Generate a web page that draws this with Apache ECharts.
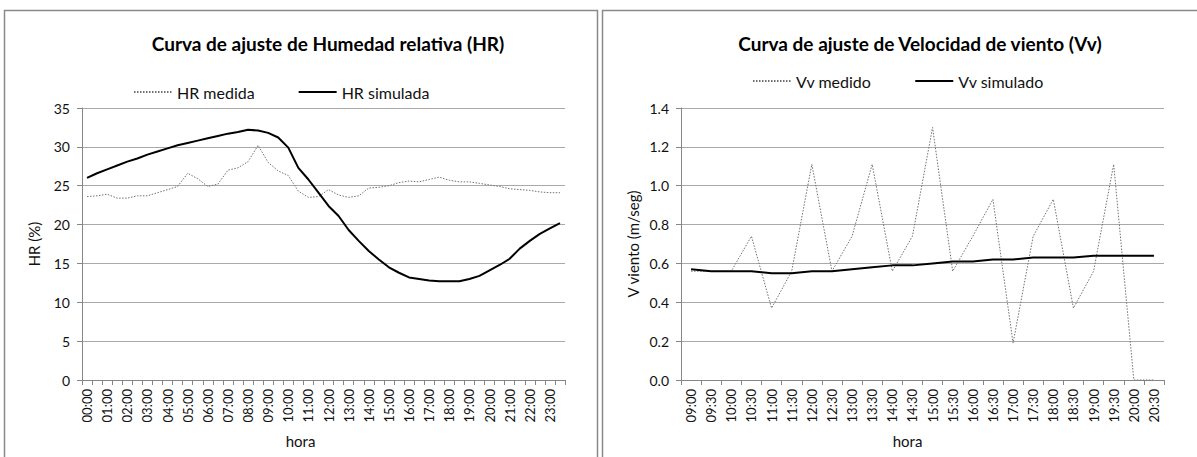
<!DOCTYPE html>
<html>
<head>
<meta charset="utf-8">
<script src="https://cdn.jsdelivr.net/npm/echarts@6/dist/echarts.min.js"></script>
<style>
html,body{margin:0;padding:0;background:#fff;}
#chart{width:1197px;height:457px;}
</style>
</head>
<body>
<div id="chart"></div>
<script>
// ---------- DATA ----------
const hoursHR = ['00:00','00:30','01:00','01:30','02:00','02:30','03:00','03:30','04:00','04:30','05:00','05:30',
  '06:00','06:30','07:00','07:30','08:00','08:30','09:00','09:30','10:00','10:30','11:00','11:30',
  '12:00','12:30','13:00','13:30','14:00','14:30','15:00','15:30','16:00','16:30','17:00','17:30',
  '18:00','18:30','19:00','19:30','20:00','20:30','21:00','21:30','22:00','22:30','23:00','23:30'];
const hrMedida = [23.6,23.7,23.9,23.4,23.4,23.7,23.7,24.1,24.5,24.9,26.6,25.9,
  24.9,25.2,27.0,27.3,28.1,30.2,28.0,26.9,26.3,24.3,23.5,23.6,
  24.5,23.8,23.5,23.7,24.7,24.8,25.0,25.4,25.6,25.5,25.8,26.1,
  25.7,25.5,25.5,25.3,25.1,24.9,24.6,24.5,24.4,24.2,24.1,24.1];
const hrSimulada = [26.0,26.6,27.1,27.6,28.1,28.5,29.0,29.4,29.8,30.2,30.5,30.8,
  31.1,31.4,31.7,31.9,32.2,32.1,31.8,31.2,29.9,27.3,25.8,24.1,
  22.4,21.1,19.3,17.9,16.6,15.5,14.5,13.8,13.2,13.0,12.8,12.7,
  12.7,12.7,13.0,13.4,14.1,14.8,15.6,16.9,17.9,18.8,19.5,20.2];

const hoursVv = ['09:00','09:30','10:00','10:30','11:00','11:30','12:00','12:30','13:00','13:30','14:00','14:30',
  '15:00','15:30','16:00','16:30','17:00','17:30','18:00','18:30','19:00','19:30','20:00','20:30'];
const vvMedido = [0.56,0.56,0.56,0.74,0.37,0.56,1.11,0.56,0.74,1.11,0.56,0.74,
  1.30,0.56,0.74,0.93,0.19,0.74,0.93,0.37,0.56,1.11,0.00,0.00];
const vvSimulado = [0.57,0.56,0.56,0.56,0.55,0.55,0.56,0.56,0.57,0.58,0.59,0.59,
  0.60,0.61,0.61,0.62,0.62,0.63,0.63,0.63,0.64,0.64,0.64,0.64];

const titleHR = 'Curva de ajuste de Humedad relativa (HR)';
const titleVv = 'Curva de ajuste de Velocidad de viento (Vv)';

// ---------- STYLE ----------
const FONT = 'Lato';
const TXT = '#111';
const AXIS = '#868686';
const GRIDC = '#a9a9a9';
const dottedStyle = {color:'#707070', width:1, type:[1.5,1.5]};
const solidStyle = {color:'#000', width:2, type:'solid'};

function xAxisCfg(gi, data, labelInterval, namePad){
  return {
    gridIndex: gi, type:'category', data: data, boundaryGap:true,
    axisLine:{show:true, lineStyle:{color:AXIS, width:1}},
    axisTick:{show:true, interval:0, length:5, lineStyle:{color:AXIS}},
    axisLabel:{interval:labelInterval, rotate:90, margin:9, fontSize:13, fontFamily:FONT, color:TXT},
    splitLine:{show:false},
    name:'hora', nameLocation:'middle', nameGap:53,
    nameTextStyle:{fontSize:15, fontFamily:FONT, color:TXT, padding:namePad}
  };
}
function yAxisCfg(gi, max, interval, name, fmt){
  return {
    gridIndex: gi, type:'value', min:0, max:max, interval:interval,
    axisLine:{show:true, lineStyle:{color:AXIS, width:1}},
    axisTick:{show:true, length:5, lineStyle:{color:AXIS}},
    axisLabel:{margin:12, fontSize:14, fontFamily:FONT, color:TXT, formatter: fmt},
    splitLine:{show:true, lineStyle:{color:GRIDC, width:1}},
    name:name, nameLocation:'middle', nameGap:41, nameRotate:90,
    nameTextStyle:{fontSize:15, fontFamily:FONT, color:TXT}
  };
}
function legendCfg(left, top, names){
  return {
    left:left, top:top, padding:0, itemWidth:38, itemHeight:14, itemGap:43,
    itemStyle:{opacity:0},
    textStyle:{fontSize:16, fontFamily:FONT, color:TXT},
    data:names
  };
}

const chart = echarts.init(document.getElementById('chart'), null, {renderer:'svg'});
chart.setOption({
  animation:false,
  backgroundColor:'#fff',
  graphic:[
    {type:'rect', shape:{x:4.5, y:10.5, width:593, height:460}, style:{fill:'none', stroke:'#8a8a8a', lineWidth:1.5}, silent:true, z:-1},
    {type:'rect', shape:{x:602.5, y:10.5, width:600, height:460}, style:{fill:'none', stroke:'#8a8a8a', lineWidth:1.5}, silent:true, z:-1},
    {type:'text', x:328, y:43, style:{text:titleHR, align:'center', verticalAlign:'middle', font:'bold 19px Lato', fill:'#000'}},
    {type:'text', x:920, y:43, style:{text:titleVv, align:'center', verticalAlign:'middle', font:'bold 19px Lato', fill:'#000'}}
  ],
  legend:[
    legendCfg(133, 84, ['HR medida','HR simulada']),
    legendCfg(752, 73, ['Vv medido','Vv simulado'])
  ],
  grid:[
    {left:82, right:632, top:108, bottom:77},
    {left:681, right:33, top:108, bottom:77}
  ],
  xAxis:[
    xAxisCfg(0, hoursHR, 1, [0,46,0,0]),
    xAxisCfg(1, hoursVv, 0, [0,30,0,0])
  ],
  yAxis:[
    yAxisCfg(0, 35, 5, 'HR (%)', v => String(v)),
    yAxisCfg(1, 1.4, 0.2, 'V viento (m/seg)', v => v.toFixed(1))
  ],
  series:[
    {name:'HR medida', type:'line', xAxisIndex:0, yAxisIndex:0, data:hrMedida, symbol:'none', lineStyle:dottedStyle, itemStyle:{color:'#707070'}, z:2},
    {name:'HR simulada', type:'line', xAxisIndex:0, yAxisIndex:0, data:hrSimulada, symbol:'none', lineStyle:solidStyle, itemStyle:{color:'#000'}, z:3},
    {name:'Vv medido', type:'line', xAxisIndex:1, yAxisIndex:1, data:vvMedido, symbol:'none', lineStyle:dottedStyle, itemStyle:{color:'#707070'}, z:2},
    {name:'Vv simulado', type:'line', xAxisIndex:1, yAxisIndex:1, data:vvSimulado, symbol:'none', lineStyle:solidStyle, itemStyle:{color:'#000'}, z:3}
  ]
});
</script>
</body>
</html>
